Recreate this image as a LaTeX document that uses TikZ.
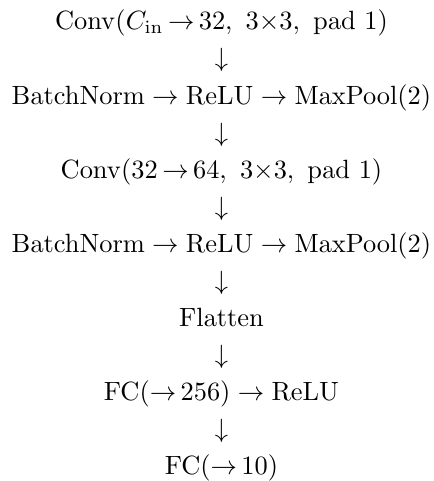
\documentclass[tikz,border=0pt]{standalone}
\usepackage{graphicx}
\newcommand{\lbl}[1]{\scalebox{1.32}{$#1$}}
\tikzset{
  rowtext/.style={inner sep=0pt, outer sep=0pt, anchor=base},
}
\begin{document}
\begin{tikzpicture}[x=0.5pt,y=-0.5pt]
\useasboundingbox (0,0) rectangle (433,481);
\node[rowtext] (c1) at (221.5,30.0)  {\lbl{\mathrm{Conv}(C_{\mathrm{in}}\,{\to}\,32,\ 3{\times}3,\ \mathrm{pad}\ 1)}};
\node[rowtext] (a1) at (221.5,67.0)  {\lbl{\downarrow}};
\node[rowtext] (b1) at (221.5,104.1) {\lbl{\mathrm{BatchNorm}\rightarrow\mathrm{ReLU}\rightarrow\mathrm{MaxPool}(2)}};
\node[rowtext] (a2) at (221.5,141.1) {\lbl{\downarrow}};
\node[rowtext] (c2) at (221.5,178.1) {\lbl{\mathrm{Conv}(32\,{\to}\,64,\ 3{\times}3,\ \mathrm{pad}\ 1)}};
\node[rowtext] (a3) at (221.5,215.2) {\lbl{\downarrow}};
\node[rowtext] (b2) at (221.5,252.2) {\lbl{\mathrm{BatchNorm}\rightarrow\mathrm{ReLU}\rightarrow\mathrm{MaxPool}(2)}};
\node[rowtext] (a4) at (221.5,289.2) {\lbl{\downarrow}};
\node[rowtext] (fl) at (221.5,326.3) {\lbl{\mathrm{Flatten}}};
\node[rowtext] (a5) at (221.5,363.3) {\lbl{\downarrow}};
\node[rowtext] (f1) at (221.5,400.3) {\lbl{\mathrm{FC}({\to}\,256)\rightarrow\mathrm{ReLU}}};
\node[rowtext] (a6) at (221.5,437.4) {\lbl{\downarrow}};
\node[rowtext] (f2) at (221.5,474.4) {\lbl{\mathrm{FC}({\to}\,10)}};
\end{tikzpicture}
\end{document}
